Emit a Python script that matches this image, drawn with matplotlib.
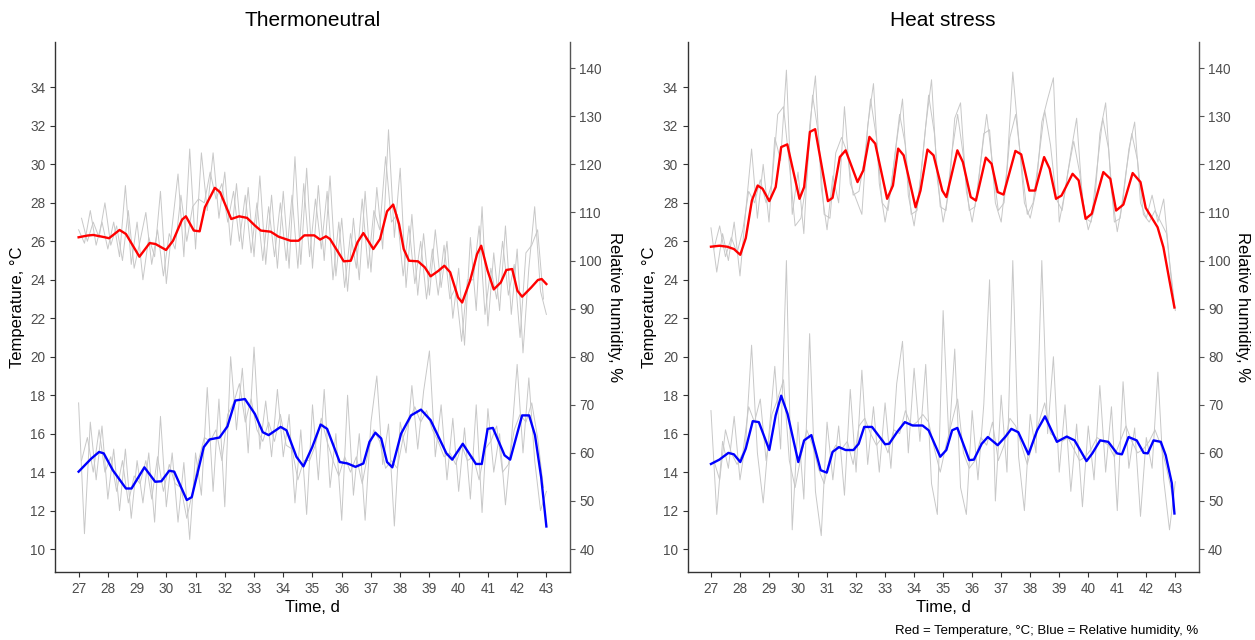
import numpy as np
import matplotlib
matplotlib.use("Agg")
from matplotlib import pyplot as plt

plt.rcParams['font.family'] = ['Liberation Sans', 'DejaVu Sans']

# RH axis is drawn on the temperature scale: RH = 4 * T
RH_SCALE = 4.0

# ---------------- Thermoneutral ----------------
tn_temp_day = [27.00, 27.30, 27.50, 27.90, 28.04, 28.40, 28.62, 29.08, 29.43, 29.63,
               29.99, 30.23, 30.54, 30.67, 30.94, 31.14, 31.32, 31.66, 31.84, 32.22,
               32.49, 32.76, 33.03, 33.23, 33.57, 33.84, 34.25, 34.52, 34.72, 35.06,
               35.26, 35.46, 35.60, 36.07, 36.31, 36.54, 36.74, 37.08, 37.31, 37.55,
               37.76, 37.96, 38.12, 38.30, 38.61, 38.84, 39.04, 39.31, 39.51, 39.71,
               39.98, 40.12, 40.39, 40.63, 40.77, 40.99, 41.20, 41.44, 41.63, 41.83,
               42.01, 42.17, 42.48, 42.71, 42.84, 43.00]
tn_temp = [26.21, 26.30, 26.33, 26.21, 26.16, 26.59, 26.38, 25.20, 25.91, 25.86,
           25.55, 26.03, 27.13, 27.30, 26.56, 26.52, 27.77, 28.78, 28.55, 27.16,
           27.30, 27.22, 26.82, 26.56, 26.50, 26.24, 26.03, 26.03, 26.31, 26.31,
           26.09, 26.26, 26.12, 24.96, 24.99, 25.95, 26.43, 25.60, 26.12, 27.56,
           27.91, 26.90, 25.60, 24.99, 24.96, 24.65, 24.18, 24.47, 24.73, 24.39,
           23.08, 22.82, 23.95, 25.34, 25.77, 24.47, 23.50, 23.86, 24.51, 24.56,
           23.43, 23.12, 23.60, 23.99, 24.04, 23.78]

tn_rh_day = [27.00, 27.43, 27.70, 27.86, 28.17, 28.62, 28.81, 29.25, 29.62, 29.83,
             30.10, 30.27, 30.70, 30.87, 31.28, 31.48, 31.82, 32.09, 32.36, 32.69,
             33.03, 33.30, 33.50, 33.91, 34.11, 34.45, 34.69, 34.99, 35.28, 35.50,
             35.93, 36.20, 36.47, 36.74, 36.95, 37.15, 37.35, 37.55, 37.73, 38.03,
             38.37, 38.71, 39.04, 39.58, 39.78, 40.14, 40.59, 40.79, 40.99, 41.17,
             41.57, 41.76, 42.17, 42.41, 42.61, 42.82, 43.00]
tn_rh = [56.1, 58.8, 60.2, 59.9, 56.4, 52.6, 52.6, 57.0, 54.0, 54.1,
         56.3, 56.1, 50.2, 50.8, 61.2, 62.8, 63.2, 65.5, 70.9, 71.2,
         68.1, 64.3, 63.7, 65.4, 64.7, 59.2, 57.2, 61.2, 65.9, 65.0,
         58.1, 57.8, 57.1, 57.8, 62.3, 64.2, 63.0, 58.1, 57.0, 64.0,
         67.8, 69.0, 66.8, 59.9, 58.6, 61.9, 57.7, 57.7, 65.0, 65.2,
         59.5, 58.6, 67.8, 67.8, 63.7, 55.0, 44.7]

# raw logger readings: sensor A every 0.2 d from day 27.0, sensor B from day 27.1
tn_temp_raw_a = [26.6, 25.9, 27.6, 25.8, 27.0, 25.6, 27.0, 25.2, 28.9, 24.8,
                 27.0, 24.0, 26.2, 25.2, 28.6, 23.8, 26.8, 29.5, 25.2, 30.8,
                 25.6, 30.6, 27.6, 30.6, 27.2, 29.6, 25.8, 29.0, 25.6, 28.8,
                 25.2, 29.4, 24.8, 28.4, 24.6, 28.6, 24.6, 30.4, 24.8, 29.8,
                 24.6, 28.9, 25.0, 29.4, 24.2, 27.2, 23.4, 27.2, 24.0, 28.6,
                 24.4, 28.8, 25.6, 31.8, 26.2, 29.8, 23.6, 27.4, 23.2, 26.4,
                 23.2, 26.6, 23.6, 26.0, 22.0, 24.6, 20.6, 26.2, 22.4, 27.8,
                 21.6, 25.4, 22.4, 26.8, 22.2, 25.6, 20.2, 24.6, 27.8, 23.4,
                 22.2]
tn_temp_raw_b = [27.2, 26.0, 27.0, 26.2, 28.0, 25.8, 26.8, 25.0, 27.6, 24.6,
                 26.0, 27.5, 24.8, 26.6, 24.2, 26.4, 25.6, 28.4, 26.0, 27.8,
                 28.2, 28.0, 29.6, 28.2, 29.0, 27.0, 28.6, 26.0, 28.4, 25.4,
                 28.0, 25.0, 27.8, 25.2, 28.0, 25.0, 28.4, 24.6, 29.0, 25.2,
                 28.2, 25.6, 28.6, 24.0, 27.0, 23.6, 26.4, 24.6, 28.2, 24.6,
                 27.6, 26.6, 30.4, 27.0, 27.4, 24.2, 26.8, 23.8, 26.0, 23.0,
                 25.6, 23.2, 25.8, 23.0, 23.6, 20.8, 24.0, 24.0, 26.8, 22.2,
                 24.6, 23.0, 26.0, 23.2, 24.8, 21.0, 25.4, 25.8, 26.6, 23.0]
tn_rh_raw_a = [70.4, 43.2, 66.4, 54.4, 65.6, 50.4, 60.8, 48.0, 60.8, 46.4,
               58.4, 49.6, 60.0, 45.6, 67.6, 48.8, 60.0, 45.6, 58.0, 42.0,
               60.0, 51.2, 73.6, 52.0, 71.2, 48.8, 80.0, 64.8, 77.6, 60.0,
               82.0, 60.8, 70.8, 59.2, 73.2, 59.2, 68.0, 49.6, 64.8, 47.2,
               70.0, 54.4, 73.2, 52.8, 64.0, 46.0, 72.0, 51.2, 64.0, 46.0,
               66.4, 76.0, 57.6, 66.0, 44.8, 66.4, 60.0, 74.0, 60.8, 72.8,
               81.2, 59.2, 70.0, 54.4, 67.2, 52.0, 65.2, 50.4, 70.0, 47.6,
               69.2, 56.0, 64.0, 49.2, 62.4, 78.4, 60.0, 75.6, 58.4, 48.0,
               52.0]
tn_rh_raw_b = [58.4, 63.2, 56.0, 64.8, 56.0, 59.2, 52.0, 58.4, 49.6, 55.2,
               53.6, 58.4, 50.4, 59.2, 52.0, 57.6, 53.6, 52.8, 46.4, 52.0,
               58.4, 63.2, 62.4, 64.8, 58.4, 68.0, 70.4, 74.4, 66.4, 71.2,
               64.8, 62.4, 66.4, 62.4, 68.0, 61.6, 60.8, 54.4, 58.4, 58.4,
               61.6, 67.2, 62.4, 58.4, 55.2, 59.2, 56.0, 59.2, 53.6, 60.0,
               64.8, 62.4, 56.8, 58.4, 56.8, 63.2, 66.4, 69.6, 66.4, 68.8,
               64.8, 62.4, 59.2, 60.0, 57.6, 61.6, 58.4, 59.2, 54.4, 60.8,
               62.4, 65.6, 56.0, 57.6, 64.8, 68.0, 66.4, 70.4, 63.2, 52.8]

# ---------------- Heat stress ----------------
hs_temp_day = [27.00, 27.29, 27.56, 27.79, 28.01, 28.20, 28.41, 28.61, 28.78, 29.01,
               29.23, 29.42, 29.63, 30.05, 30.21, 30.41, 30.59, 31.03, 31.19, 31.44,
               31.64, 32.05, 32.25, 32.46, 32.66, 33.07, 33.27, 33.45, 33.64, 34.05,
               34.22, 34.46, 34.67, 34.97, 35.11, 35.49, 35.68, 35.95, 36.13, 36.47,
               36.67, 36.88, 37.08, 37.49, 37.69, 37.97, 38.17, 38.48, 38.67, 38.89,
               39.08, 39.46, 39.67, 39.91, 40.12, 40.52, 40.76, 40.96, 41.21, 41.53,
               41.80, 41.98, 42.39, 42.59, 42.80, 42.97]
hs_temp = [25.72, 25.77, 25.72, 25.60, 25.30, 26.17, 28.12, 28.90, 28.73, 28.09,
           28.82, 30.90, 31.04, 28.21, 28.82, 31.69, 31.83, 28.09, 28.26, 30.38,
           30.73, 29.08, 29.69, 31.43, 31.08, 28.21, 28.90, 30.82, 30.47, 27.77,
           28.64, 30.77, 30.47, 28.64, 28.30, 30.73, 30.12, 28.30, 28.12, 30.35,
           30.03, 28.56, 28.43, 30.70, 30.52, 28.64, 28.64, 30.38, 29.77, 28.21,
           28.38, 29.51, 29.17, 27.17, 27.43, 29.60, 29.25, 27.60, 27.91, 29.55,
           29.08, 27.74, 26.73, 25.69, 23.95, 22.56]

hs_rh_day = [27.00, 27.29, 27.60, 27.79, 28.01, 28.20, 28.44, 28.65, 29.01, 29.23,
             29.42, 29.64, 30.01, 30.21, 30.46, 30.78, 30.99, 31.19, 31.41, 31.64,
             31.91, 32.09, 32.28, 32.55, 33.00, 33.14, 33.41, 33.68, 33.95, 34.29,
             34.50, 34.90, 35.11, 35.31, 35.49, 35.90, 36.06, 36.33, 36.54, 36.88,
             37.15, 37.35, 37.59, 37.94, 38.24, 38.51, 38.92, 39.26, 39.53, 39.94,
             40.14, 40.41, 40.69, 40.99, 41.16, 41.39, 41.67, 41.91, 42.05, 42.25,
             42.50, 42.67, 42.88, 42.97]
hs_rh = [57.7, 58.6, 60.0, 59.7, 58.1, 60.9, 66.6, 66.4, 60.6, 67.8,
         71.9, 68.1, 58.1, 62.6, 63.7, 56.4, 55.9, 60.2, 61.2, 60.6,
         60.6, 61.9, 65.4, 65.4, 61.8, 61.9, 64.3, 66.4, 65.7, 65.7,
         64.7, 59.2, 60.6, 64.7, 65.2, 58.5, 58.6, 61.9, 63.3, 61.6,
         63.4, 65.0, 64.3, 59.7, 64.7, 67.6, 62.3, 63.4, 62.6, 58.3,
         59.9, 62.6, 62.3, 59.9, 59.7, 63.3, 62.6, 60.0, 59.9, 62.6,
         62.3, 59.5, 53.7, 47.4]

hs_temp_raw_a = [26.7, 24.4, 26.4, 25.0, 27.0, 24.2, 27.6, 30.8, 27.2, 30.0,
                 27.0, 31.4, 30.2, 34.9, 27.4, 29.6, 26.4, 32.0, 34.6, 28.8,
                 26.6, 29.4, 28.0, 33.0, 29.0, 28.2, 27.4, 32.0, 34.2, 29.0,
                 27.0, 28.8, 31.2, 33.4, 28.4, 26.8, 29.0, 32.0, 34.4, 29.2,
                 27.0, 28.6, 32.4, 33.2, 28.6, 27.0, 28.8, 31.6, 31.8, 28.0,
                 27.0, 29.8, 34.8, 31.4, 28.0, 27.2, 28.6, 32.2, 33.4, 34.5,
                 27.0, 28.6, 30.6, 32.4, 28.2, 26.6, 27.6, 31.6, 33.2, 28.6,
                 26.5, 28.2, 30.8, 32.2, 28.0, 27.2, 28.4, 27.0, 28.2, 25.0,
                 22.4]
hs_temp_raw_b = [25.6, 26.8, 25.2, 26.2, 25.4, 26.6, 28.6, 28.0, 29.2, 28.0,
                 29.0, 32.6, 33.0, 30.0, 26.8, 27.2, 29.2, 33.6, 31.6, 27.4,
                 27.2, 30.6, 31.4, 30.6, 28.4, 28.6, 30.4, 33.4, 31.4, 28.0,
                 27.6, 30.0, 32.6, 31.0, 27.4, 27.6, 30.4, 33.6, 31.6, 27.8,
                 27.6, 30.6, 32.6, 30.4, 27.6, 27.8, 30.2, 32.6, 30.0, 27.6,
                 28.0, 31.4, 32.6, 30.0, 27.4, 28.0, 30.4, 32.8, 31.0, 28.2,
                 27.6, 29.6, 31.2, 29.6, 27.2, 27.0, 29.8, 32.4, 30.8, 27.0,
                 27.2, 29.6, 31.6, 30.2, 27.4, 27.0, 27.6, 27.0, 26.4, 23.4]
hs_rh_raw_a = [68.8, 47.2, 62.4, 56.8, 67.6, 54.4, 62.4, 82.4, 60.0, 49.6,
               64.0, 78.0, 60.8, 100.0, 44.0, 66.4, 50.4, 84.8, 52.0, 42.8,
               66.4, 54.4, 65.6, 51.2, 73.2, 56.0, 77.2, 57.6, 69.6, 56.0,
               70.4, 56.8, 74.4, 83.2, 60.0, 77.6, 62.4, 78.4, 53.6, 47.2,
               89.6, 62.4, 81.6, 52.8, 47.2, 68.8, 54.4, 70.0, 96.0, 50.0,
               72.0, 56.0, 100.0, 59.2, 48.0, 68.0, 60.0, 100.0, 64.0, 80.0,
               56.0, 70.0, 52.0, 66.0, 48.8, 65.6, 54.4, 74.0, 56.0, 69.6,
               48.0, 74.8, 56.8, 65.2, 46.8, 63.2, 56.8, 76.8, 54.4, 44.0,
               54.0]
hs_rh_raw_b = [58.4, 54.4, 64.8, 60.0, 57.6, 60.0, 69.6, 66.4, 71.2, 58.4,
               68.0, 71.2, 75.2, 58.4, 52.8, 59.2, 64.8, 61.6, 56.8, 53.6,
               59.2, 61.6, 60.8, 62.4, 57.6, 65.6, 67.2, 64.0, 61.6, 63.2,
               60.0, 64.8, 64.0, 68.8, 65.6, 66.4, 68.0, 66.4, 60.8, 56.0,
               61.6, 66.4, 71.2, 60.0, 56.8, 58.4, 63.2, 61.6, 66.4, 58.4,
               61.6, 67.2, 65.6, 61.6, 57.6, 62.4, 66.4, 70.4, 64.0, 63.2,
               62.4, 63.2, 60.8, 58.4, 59.2, 60.8, 63.2, 62.4, 61.6, 59.2,
               62.4, 65.6, 62.4, 60.0, 60.8, 62.4, 64.8, 61.6, 56.8, 51.2]

panels = [
    ("Thermoneutral", tn_temp_day, tn_temp, tn_rh_day, tn_rh,
     [tn_temp_raw_a, tn_temp_raw_b], [tn_rh_raw_a, tn_rh_raw_b]),
    ("Heat stress", hs_temp_day, hs_temp, hs_rh_day, hs_rh,
     [hs_temp_raw_a, hs_temp_raw_b], [hs_rh_raw_a, hs_rh_raw_b]),
]

fig = plt.figure(figsize=(12.55, 6.4), dpi=100)
boxes = [[0.044, 0.106, 0.410, 0.828], [0.548, 0.106, 0.407, 0.828]]

grey = '#c8c8c8'
tickc = '#4d4d4d'


def raw_days(vals):
    # sensor A starts at day 27.0, sensor B half a step later
    if len(vals) == 81:
        return np.linspace(27, 43, 81)
    return np.linspace(27.1, 42.9, len(vals))


for box, (title, tday, temp, rday, rh, traws, rraws) in zip(boxes, panels):
    ax = fig.add_axes(box)
    for tr in traws:
        ax.plot(raw_days(tr), tr, color=grey, lw=0.7, zorder=1)
    for rr in rraws:
        ax.plot(raw_days(rr), np.array(rr) / RH_SCALE, color=grey, lw=0.7, zorder=1)
    ax.plot(tday, temp, color='#ff0000', lw=1.7, zorder=3)
    ax.plot(rday, np.array(rh) / RH_SCALE, color='#0000ff', lw=1.7, zorder=3)

    ax.set_xlim(26.2, 43.8)
    ax.set_ylim(8.8, 36.35)
    ax.set_xticks(range(27, 44))
    ax.set_yticks(range(10, 35, 2))
    ax.spines['top'].set_visible(False)
    ax.spines['right'].set_visible(False)
    for s in ['left', 'bottom']:
        ax.spines[s].set_color('#333333')
        ax.spines[s].set_linewidth(1.0)
    ax.tick_params(colors='#333333', labelcolor=tickc, labelsize=9.8, length=3.5)
    ax.set_xlabel('Time, d', fontsize=12, labelpad=3)
    ax.set_ylabel('Temperature, °C', fontsize=12, labelpad=4)
    ax.set_title(title, fontsize=15, pad=12)

    sec = ax.secondary_yaxis('right', functions=(lambda t: t * RH_SCALE,
                                                 lambda r: r / RH_SCALE))
    sec.set_yticks(range(40, 141, 10))
    sec.spines['right'].set_color('#555555')
    sec.spines['right'].set_linewidth(1.0)
    sec.tick_params(colors='#555555', labelcolor=tickc, labelsize=9.8, length=3.5)
    sec.set_ylabel('Relative humidity, %', fontsize=12, rotation=270, labelpad=14)

fig.text(0.955, 0.004, 'Red = Temperature, °C; Blue = Relative humidity, %',
         ha='right', va='bottom', fontsize=9.5)

fig.savefig('out.png', dpi=100)
